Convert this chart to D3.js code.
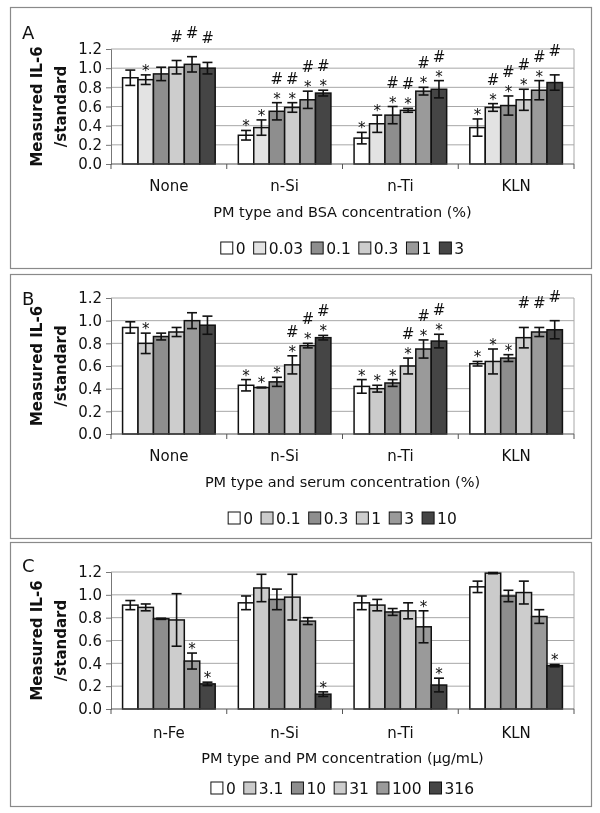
<!DOCTYPE html>
<html>
<head>
<meta charset="utf-8">
<script src="https://cdn.jsdelivr.net/npm/d3@7"></script>
<style>
  body { margin: 0; background: #fff; }
  svg { will-change: transform; }
  text { font-family: "DejaVu Sans", sans-serif; fill: #111; }
</style>
</head>
<body>
<svg id="chart" width="600" height="813"></svg>
<script>
// ---- data ----
const groupsAB = ["None", "n-Si", "n-Ti", "KLN"];
const groupsC = ["n-Fe", "n-Si", "n-Ti", "KLN"];
const seriesA = ["0", "0.03", "0.1", "0.3", "1", "3"];
const seriesB = ["0", "0.1", "0.3", "1", "3", "10"];
const seriesC = ["0", "3.1", "10", "31", "100", "316"];
const yTicks = [0, 0.2, 0.4, 0.6, 0.8, 1.0, 1.2];

// values[group][series]
const valuesA = [
  [0.90, 0.88, 0.94, 1.01, 1.04, 1.00],
  [0.30, 0.38, 0.55, 0.59, 0.67, 0.74],
  [0.27, 0.42, 0.51, 0.56, 0.76, 0.78],
  [0.38, 0.59, 0.61, 0.67, 0.77, 0.85]
];
const errorsA = [
  [0.08, 0.05, 0.07, 0.07, 0.08, 0.06],
  [0.05, 0.08, 0.09, 0.05, 0.09, 0.03],
  [0.06, 0.09, 0.09, 0.02, 0.04, 0.09],
  [0.09, 0.04, 0.10, 0.11, 0.10, 0.08]
];
const marksA = [
  ["", "*", "", "#", "#", "#"],
  ["*", "*", "*#", "*#", "*#", "*#"],
  ["*", "*", "*#", "*#", "*#", "*#"],
  ["*", "*#", "*#", "*#", "*#", "#"]
];

const valuesB = [
  [0.94, 0.80, 0.86, 0.90, 1.00, 0.96],
  [0.43, 0.41, 0.46, 0.61, 0.78, 0.85],
  [0.42, 0.40, 0.45, 0.60, 0.75, 0.82],
  [0.62, 0.64, 0.67, 0.85, 0.90, 0.92]
];
const errorsB = [
  [0.05, 0.09, 0.03, 0.04, 0.07, 0.08],
  [0.05, 0.003, 0.04, 0.08, 0.02, 0.02],
  [0.06, 0.03, 0.03, 0.07, 0.08, 0.06],
  [0.02, 0.11, 0.03, 0.09, 0.04, 0.08]
];
const marksB = [
  ["", "*", "", "", "", ""],
  ["*", "*", "*", "*#", "*#", "*#"],
  ["*", "*", "*", "*#", "*#", "*#"],
  ["*", "*", "*", "#", "#", "#"]
];

const valuesC = [
  [0.91, 0.89, 0.79, 0.78, 0.42, 0.22],
  [0.93, 1.06, 0.96, 0.98, 0.77, 0.13],
  [0.93, 0.91, 0.85, 0.86, 0.72, 0.21],
  [1.07, 1.19, 0.99, 1.02, 0.81, 0.38]
];
const errorsC = [
  [0.04, 0.03, 0.005, 0.23, 0.07, 0.015],
  [0.06, 0.12, 0.09, 0.20, 0.03, 0.02],
  [0.06, 0.05, 0.03, 0.07, 0.14, 0.06],
  [0.05, 0.005, 0.05, 0.10, 0.06, 0.01]
];
const marksC = [
  ["", "", "", "", "*", "*"],
  ["", "", "", "", "", "*"],
  ["", "", "", "", "*", "*"],
  ["", "", "", "", "", "*"]
];

const colorsA = ["#ffffff", "#e3e3e3", "#8e8e8e", "#cdcdcd", "#9a9a9a", "#454545"];
const colorsBC = ["#ffffff", "#cbcbcb", "#8e8e8e", "#cdcdcd", "#9a9a9a", "#454545"];

const svg = d3.select("#chart");

function drawPanel(cfg) {
  const g = svg.append("g");
  const left = 111, right = 574;

  // panel frame
  g.append("rect")
    .attr("x", 10.5).attr("y", cfg.boxTop + 0.5)
    .attr("width", 581).attr("height", cfg.boxBottom - cfg.boxTop)
    .attr("fill", "none").attr("stroke", "#8a8a8a").attr("stroke-width", 1.2);

  const y = d3.scaleLinear().domain([0, 1.2]).range([cfg.plotBottom, cfg.plotTop]);
  const x0 = d3.scaleBand().domain(cfg.groups).range([left, right]);
  const bw = x0.bandwidth();
  const x1 = d3.scaleBand().domain(cfg.series).range([bw * 0.1, bw * 0.9]);

  // grid
  g.append("g").selectAll("line").data(yTicks.filter(d => d > 0)).join("line")
    .attr("x1", left).attr("x2", right)
    .attr("y1", d => y(d)).attr("y2", d => y(d))
    .attr("stroke", "#a8a8a8").attr("stroke-width", 1);
  g.append("line")
    .attr("x1", right).attr("x2", right)
    .attr("y1", y(1.2)).attr("y2", y(0))
    .attr("stroke", "#a8a8a8");

  // y axis
  const yAxis = d3.axisLeft(y).tickValues(yTicks).tickFormat(d3.format(".1f")).tickSize(5).tickPadding(4);
  const ya = g.append("g").attr("transform", `translate(${left},0)`).call(yAxis);
  ya.select(".domain").attr("stroke", "#777");
  ya.selectAll(".tick line").attr("stroke", "#777");
  ya.selectAll(".tick text").attr("font-size", 15).attr("font-family", "DejaVu Sans").attr("fill", "#111");

  // bars
  const grp = g.append("g").selectAll("g").data(cfg.groups).join("g")
    .attr("transform", d => `translate(${x0(d)},0)`);
  grp.each(function (gName, gi) {
    const sel = d3.select(this);
    cfg.series.forEach((s, si) => {
      const v = cfg.values[gi][si], e = cfg.errors[gi][si];
      const bx = x1(s), w = x1.bandwidth(), cx = bx + w / 2;
      sel.append("rect")
        .attr("x", bx).attr("y", y(v))
        .attr("width", w).attr("height", y(0) - y(v))
        .attr("fill", cfg.colors[si]).attr("stroke", "#111").attr("stroke-width", 1.5);
      // error bar
      sel.append("line").attr("x1", cx).attr("x2", cx)
        .attr("y1", y(v - e)).attr("y2", y(v + e))
        .attr("stroke", "#111").attr("stroke-width", 1.6);
      [v - e, v + e].forEach(t => {
        sel.append("line").attr("x1", cx - 5).attr("x2", cx + 5)
          .attr("y1", y(t)).attr("y2", y(t))
          .attr("stroke", "#111").attr("stroke-width", 1.6);
      });
      // significance marks: star slot just above the cap, hash above that
      const m = cfg.marks[gi][si];
      const cap = y(v + e);
      if (m.includes("*")) {
        sel.append("text").attr("x", cx).attr("y", cap + 1)
          .attr("text-anchor", "middle").attr("font-size", 15).text("*");
      }
      if (m.includes("#")) {
        sel.append("text").attr("x", cx).attr("y", cap - 19)
          .attr("text-anchor", "middle").attr("font-size", 15).text("#");
      }
    });
  });

  // x axis
  const xa = g.append("g");
  xa.append("line").attr("x1", left).attr("x2", right)
    .attr("y1", y(0)).attr("y2", y(0)).attr("stroke", "#555").attr("stroke-width", 1.2);
  const bounds = cfg.groups.map(d => x0(d)).concat([right]);
  xa.selectAll("line.tk").data(bounds).join("line").attr("class", "tk")
    .attr("x1", d => d).attr("x2", d => d)
    .attr("y1", y(0)).attr("y2", y(0) + 5).attr("stroke", "#555");
  xa.selectAll("text").data(cfg.groups).join("text")
    .attr("x", d => x0(d) + bw / 2).attr("y", cfg.catY)
    .attr("text-anchor", "middle").attr("dominant-baseline", "central")
    .attr("font-size", 15).text(d => d);

  g.append("text").attr("x", (left + right) / 2).attr("y", cfg.titleY)
    .attr("text-anchor", "middle").attr("dominant-baseline", "central")
    .attr("font-size", 14.5).text(cfg.xTitle);

  // y title
  const ym = (cfg.plotTop + cfg.plotBottom) / 2;
  [["Measured IL-6", 42], ["/standard", 66]].forEach(([t, xp]) => {
    g.append("text").attr("transform", `translate(${xp},${ym}) rotate(-90)`)
      .attr("text-anchor", "middle").attr("font-size", 15).attr("font-weight", "bold").text(t);
  });

  // panel letter
  g.append("text").attr("x", 22).attr("y", cfg.letterY).attr("dominant-baseline", "central")
    .attr("font-size", 18).text(cfg.letter);

  // legend
  const lg = g.append("g");
  let lx = 0;
  cfg.series.forEach((s, si) => {
    lg.append("rect").attr("x", lx).attr("y", -6).attr("width", 12).attr("height", 12)
      .attr("fill", cfg.colors[si]).attr("stroke", "#111").attr("stroke-width", 1);
    const t = lg.append("text").attr("x", lx + 15).attr("y", 0.5)
      .attr("dominant-baseline", "central").attr("font-size", 15.5).text(s);
    lx += 15 + t.node().getComputedTextLength() + 8;
  });
  lx -= 8;
  lg.attr("transform", `translate(${(left + right) / 2 - lx / 2},${cfg.legendY})`);
}

drawPanel({
  letter: "A", letterY: 32, boxTop: 7, boxBottom: 268, plotTop: 49, plotBottom: 164,
  catY: 186, titleY: 212, legendY: 248,
  groups: groupsAB, series: seriesA, values: valuesA, errors: errorsA, marks: marksA,
  colors: colorsA, xTitle: "PM type and BSA concentration (%)"
});
drawPanel({
  letter: "B", letterY: 298, boxTop: 274, boxBottom: 538, plotTop: 298, plotBottom: 434,
  catY: 456, titleY: 482, legendY: 518,
  groups: groupsAB, series: seriesB, values: valuesB, errors: errorsB, marks: marksB,
  colors: colorsBC, xTitle: "PM  type and serum concentration (%)"
});
drawPanel({
  letter: "C", letterY: 565, boxTop: 542, boxBottom: 806, plotTop: 572, plotBottom: 709,
  catY: 733, titleY: 758, legendY: 788,
  groups: groupsC, series: seriesC, values: valuesC, errors: errorsC, marks: marksC,
  colors: colorsBC, xTitle: "PM  type and PM concentration (\u03BCg/mL)"
});
</script>
</body>
</html>
